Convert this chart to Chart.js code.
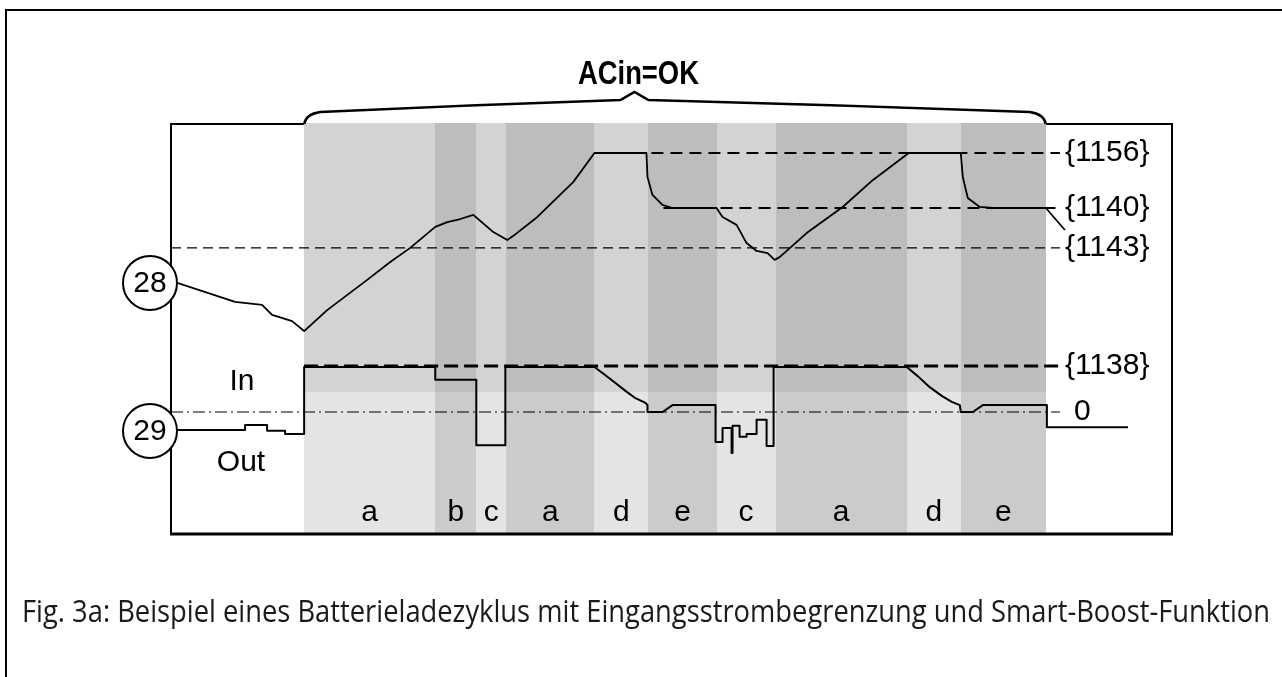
<!DOCTYPE html>
<html>
<head>
<meta charset="utf-8">
<script src="https://cdn.jsdelivr.net/npm/chart.js@4.4.1/dist/chart.umd.min.js"></script>
<style>
  html, body { margin: 0; padding: 0; background: #fff; }
  canvas { display: block; }
</style>
</head>
<body>
<canvas id="chart" width="1282" height="677"></canvas>
<script>
// time runs 0..100 across the plot box (arbitrary units)
// voltage in V, current in % of the input limit {1138}

const voltTime = [0, 6.4, 9.1, 10.1, 12.1, 13.3, 15.6, 19.6, 21.9, 23.9, 26.4, 27.6, 28.9, 30.2, 32.2, 33.6,
  34.2, 36.6, 40.2, 42.3, 47.5, 47.6, 48.1, 49.1, 50.1, 54.5, 55.1, 56.5, 57.5, 58.5, 59.6, 60.3, 60.8,
  63.5, 67.1, 70.1, 73.7, 78.9, 79.1, 79.6, 80.8, 82.1, 87.4, 89.3];
const voltValues = [25.08, 24.47, 24.38, 24.09, 23.91, 23.62, 24.23, 25.11, 25.63, 26.04, 26.65, 26.79, 26.88, 27.0, 26.5, 26.27,
  26.39, 26.94, 27.96, 28.8, 28.8, 28.1, 27.58, 27.29, 27.2, 27.2, 26.94, 26.71, 26.18, 25.95, 25.89, 25.69, 25.77,
  26.47, 27.23, 28.01, 28.8, 28.8, 28.1, 27.49, 27.23, 27.2, 27.2, 26.56];

const currTime = [0, 7.4, 7.4, 9.6, 9.6, 11.4, 11.4, 13.3, 13.3, 26.4, 26.4, 30.5, 30.5, 33.4, 33.4, 42.3,
  43.4, 44.4, 45.4, 46.4, 47.4, 47.6, 47.6, 49.1, 50.1, 54.4, 54.4, 55.1, 55.1, 56.0, 56.0, 56.1, 56.1,
  56.8, 56.8, 57.5, 57.5, 58.5, 58.5, 59.5, 59.5, 60.2, 60.2, 73.5, 74.6, 75.8, 77.0, 78.0, 78.8, 78.9,
  80.1, 81.1, 87.5, 87.5, 95.6];
const currValues = [-39, -39, -28, -28, -41, -41, -48, -48, 98, 98, 70, 70, -72, -72, 98, 98,
  80, 63, 46, 30, 20, 15, 0, 0, 15, 15, -65, -65, -35, -35, -89, -89, -30,
  -30, -54, -54, -48, -48, -17, -17, -74, -74, 98, 98, 78, 54, 35, 22, 15, 0,
  0, 15, 15, -33, -33];

// charge phases
const phaseEdges = [13.3, 26.4, 30.5, 33.5, 42.3, 47.7, 54.5, 60.4, 73.5, 78.9, 87.4];
const phaseLetters = ['a', 'b', 'c', 'a', 'd', 'e', 'c', 'a', 'd', 'e'];

// parameter levels
const voltLevelNames = ['{1156}', '{1140}', '{1143}'];
const voltLevels = [28.8, 27.2, 26.04];
const voltLevelFrom = [42.3, 49.2, 0];
const currLevelNames = ['{1138}', '0'];
const currLevels = [100, 0];
const currLevelFrom = [13.3, 0];
const levelEnd = 88.8;

const shadeSplit = 43;   // lighter shading below this current
const braceTip = 46.3;

const levelLine = (from, val) => [{ x: from, y: val }, { x: levelEnd, y: val }];

const datasets = [
  {
    data: voltTime.map((t, i) => ({ x: t, y: voltValues[i] })),
    yAxisID: 'yV', borderColor: '#000', borderWidth: 1.8
  },
  {
    data: currTime.map((t, i) => ({ x: t, y: currValues[i] })),
    yAxisID: 'yI', borderColor: '#000', borderWidth: 2
  },
  { data: levelLine(voltLevelFrom[0], voltLevels[0]), yAxisID: 'yV', borderColor: '#000', borderWidth: 2, borderDash: [12, 7] },
  { data: levelLine(voltLevelFrom[1], voltLevels[1]), yAxisID: 'yV', borderColor: '#000', borderWidth: 2, borderDash: [12, 7] },
  { data: levelLine(voltLevelFrom[2], voltLevels[2]), yAxisID: 'yV', borderColor: '#000', borderWidth: 1.3, borderDash: [10, 6] },
  { data: levelLine(currLevelFrom[0], currLevels[0]), yAxisID: 'yI', borderColor: '#000', borderWidth: 3, borderDash: [14, 6] },
  { data: levelLine(currLevelFrom[1], currLevels[1]), yAxisID: 'yI', borderColor: '#000', borderWidth: 1.2, borderDash: [12, 4, 2, 4] }
];

const diagram = {
  id: 'diagram',
  beforeDatasetsDraw(chart) {
    const { ctx, chartArea: a, scales: { x, yI } } = chart;
    ctx.save();
    ctx.strokeStyle = '#000';
    ctx.lineWidth = 2;
    ctx.strokeRect(a.left, a.top, a.right - a.left, a.bottom - a.top);
    const split = Math.round(yI.getPixelForValue(shadeSplit));
    for (let i = 0; i < phaseLetters.length; i++) {
      const x0 = Math.round(x.getPixelForValue(phaseEdges[i]));
      const x1 = Math.round(x.getPixelForValue(phaseEdges[i + 1]));
      const dark = i % 2 === 1;
      ctx.fillStyle = dark ? '#bdbdbd' : '#d3d3d3';
      ctx.fillRect(x0, a.top - 1, x1 - x0, split - a.top + 1);
      ctx.fillStyle = dark ? '#cbcbcb' : '#e4e4e4';
      ctx.fillRect(x0, split, x1 - x0, a.bottom - split);
    }
    ctx.lineWidth = 3;
    ctx.beginPath();
    ctx.moveTo(a.left - 1, a.bottom);
    ctx.lineTo(a.right + 1, a.bottom);
    ctx.stroke();
    ctx.restore();
  },
  afterDraw(chart) {
    const { ctx, chartArea: a, scales: { x, yV, yI } } = chart;
    ctx.save();
    ctx.fillStyle = '#000';
    ctx.strokeStyle = '#000';
    ctx.font = '30px "Liberation Sans", Arial, sans-serif';
    ctx.textBaseline = 'middle';

    // phase letters
    ctx.textAlign = 'center';
    phaseLetters.forEach((l, i) => {
      const cx = (x.getPixelForValue(phaseEdges[i]) + x.getPixelForValue(phaseEdges[i + 1])) / 2;
      ctx.fillText(l, cx, a.bottom - 21);
    });

    // level labels
    ctx.textAlign = 'left';
    const lx = x.getPixelForValue(levelEnd) + 5;
    voltLevelNames.forEach((n, i) => ctx.fillText(n, lx, yV.getPixelForValue(voltLevels[i])));
    ctx.fillText(currLevelNames[0], lx, yI.getPixelForValue(currLevels[0]));
    ctx.fillText(currLevelNames[1], lx + 9, yI.getPixelForValue(currLevels[1]));

    // In / Out
    ctx.textAlign = 'center';
    const zero = yI.getPixelForValue(0);
    ctx.fillText('In', a.left + 71, zero - 30);
    ctx.fillText('Out', a.left + 70, zero + 51);

    // numbered circles
    const circ = (label, cy) => {
      ctx.beginPath();
      ctx.arc(a.left - 21, cy, 27, 0, Math.PI * 2);
      ctx.fillStyle = '#fff';
      ctx.fill();
      ctx.lineWidth = 2;
      ctx.stroke();
      ctx.fillStyle = '#000';
      ctx.fillText(label, a.left - 21, cy + 1);
    };
    circ('28', yV.getPixelForValue(voltValues[0]) + 2);
    circ('29', yI.getPixelForValue(currValues[0]) + 1);

    // brace over the AC-in period
    const bx0 = x.getPixelForValue(phaseEdges[0]);
    const bx1 = x.getPixelForValue(phaseEdges[phaseEdges.length - 1]);
    const bt = x.getPixelForValue(braceTip);
    ctx.lineWidth = 2.5;
    ctx.beginPath();
    ctx.moveTo(bx0, a.top);
    ctx.quadraticCurveTo(bx0 + 2, a.top - 10, bx0 + 16, a.top - 12);
    ctx.quadraticCurveTo((bx0 + bt) / 2, a.top - 19, bt - 14, a.top - 24);
    ctx.lineTo(bt, a.top - 32);
    ctx.lineTo(bt + 14, a.top - 24);
    ctx.quadraticCurveTo((bx1 + bt) / 2, a.top - 19, bx1 - 16, a.top - 12);
    ctx.quadraticCurveTo(bx1 - 2, a.top - 10, bx1, a.top);
    ctx.stroke();

    ctx.font = 'bold 33px "Liberation Sans", Arial, sans-serif';
    ctx.save();
    ctx.translate(bt + 4, 75);
    ctx.scale(0.83, 1);
    ctx.fillText('ACin=OK', 0, 0);
    ctx.restore();

    // caption
    const cap = 'Fig. 3a: Beispiel eines Batterieladezyklus mit Eingangsstrombegrenzung und Smart-Boost-Funktion';
    ctx.font = '31px "Open Sans", sans-serif';
    ctx.fillStyle = '#1a1a1a';
    ctx.textAlign = 'left';
    ctx.textBaseline = 'alphabetic';
    const w = ctx.measureText(cap).width;
    ctx.save();
    ctx.translate(22, 622);
    ctx.scale(1248 / w, 1);
    ctx.fillText(cap, 0, 0);
    ctx.restore();

    // outer frame
    ctx.strokeStyle = '#000';
    ctx.lineWidth = 2;
    ctx.beginPath();
    ctx.moveTo(6, chart.height);
    ctx.lineTo(6, 10);
    ctx.lineTo(chart.width, 10);
    ctx.stroke();
    ctx.restore();
  }
};

new Chart(document.getElementById('chart').getContext('2d'), {
  type: 'line',
  data: { datasets },
  options: {
    responsive: false,
    animation: false,
    events: [],
    layout: { padding: { left: 171, top: 124, right: 110, bottom: 143 } },
    elements: { point: { radius: 0 }, line: { tension: 0, borderJoinStyle: 'round' } },
    scales: {
      x: { type: 'linear', min: 0, max: 100, display: false },
      yV: { type: 'linear', min: 17.716, max: 29.644, display: false },
      yI: { type: 'linear', min: -265.2, max: 626.1, display: false }
    },
    plugins: { legend: { display: false }, tooltip: { enabled: false } }
  },
  plugins: [diagram]
});
</script>
</body>
</html>
